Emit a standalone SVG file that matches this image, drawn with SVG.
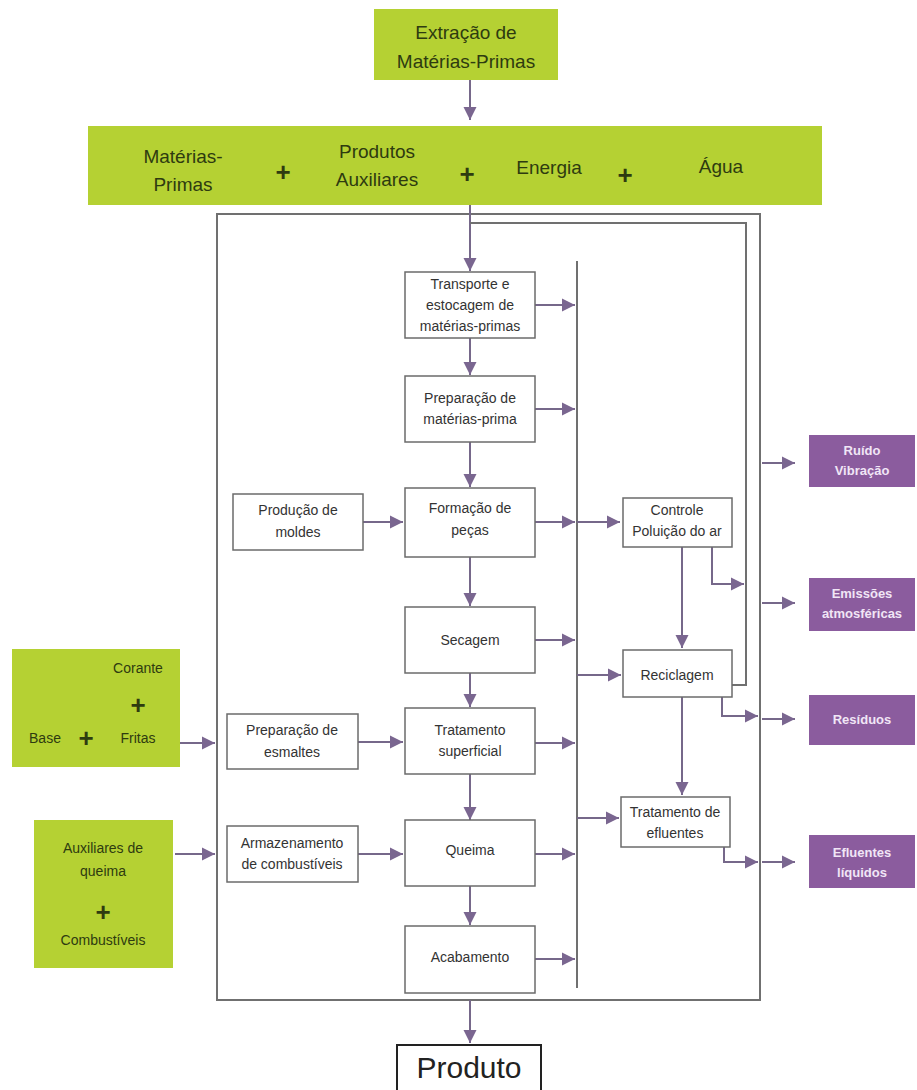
<svg xmlns="http://www.w3.org/2000/svg" width="917" height="1090" viewBox="0 0 917 1090">
<style>
.g{fill:#b5d133}
.p{fill:#8b5c9e}
.b{fill:#fff;stroke:#6b6b6b;stroke-width:1.5}
text{font-family:"Liberation Sans",Arial,sans-serif;text-anchor:middle}
.t{font-size:14px;fill:#333}
.gt{font-size:19px;fill:#2e3b10}
.gs{font-size:14px;fill:#2e3b10}
.pl{font-size:26px;fill:#2e3b10;font-weight:bold}
.pt{font-size:13px;fill:#f1e6f6;font-weight:bold}
.c{stroke:#76688a;stroke-width:2;fill:none}
.ca{stroke:#76688a;stroke-width:2;fill:none;marker-end:url(#ah)}
.o{stroke:#707070;stroke-width:2;fill:none}
</style>
<defs>
<marker id="ah" viewBox="0 0 10 10" refX="10" refY="5" markerWidth="13" markerHeight="14" markerUnits="userSpaceOnUse" orient="auto">
<path d="M0,0 L10,5 L0,10 z" fill="#7a6690"/>
</marker>
</defs>
<rect width="917" height="1090" fill="#fff"/>

<g id="frame">
<rect x="217" y="214" width="543" height="786" class="o"/>
</g>

<g id="connectors">
<line x1="470" y1="80" x2="470" y2="120" class="ca"/>
<line x1="470" y1="205" x2="470" y2="271" class="ca"/>
<polyline points="732,685 746,685 746,223 470,223" class="o"/>
<line x1="577" y1="261" x2="577" y2="988" class="o"/>
<line x1="470" y1="338" x2="470" y2="375" class="ca"/>
<line x1="470" y1="442" x2="470" y2="487" class="ca"/>
<line x1="470" y1="557" x2="470" y2="606" class="ca"/>
<line x1="470" y1="673" x2="470" y2="707" class="ca"/>
<line x1="470" y1="774" x2="470" y2="820" class="ca"/>
<line x1="470" y1="886" x2="470" y2="925" class="ca"/>
<line x1="470" y1="1000" x2="470" y2="1043" class="ca"/>
<line x1="535" y1="305" x2="575" y2="305" class="ca"/>
<line x1="535" y1="409" x2="575" y2="409" class="ca"/>
<line x1="535" y1="522" x2="575" y2="522" class="ca"/>
<line x1="535" y1="640" x2="575" y2="640" class="ca"/>
<line x1="535" y1="743" x2="575" y2="743" class="ca"/>
<line x1="535" y1="854" x2="575" y2="854" class="ca"/>
<line x1="535" y1="959" x2="575" y2="959" class="ca"/>
<line x1="577" y1="522" x2="620" y2="522" class="ca"/>
<line x1="577" y1="675" x2="621" y2="675" class="ca"/>
<line x1="577" y1="818" x2="619" y2="818" class="ca"/>
<line x1="363" y1="522" x2="403" y2="522" class="ca"/>
<line x1="180" y1="743" x2="215" y2="743" class="ca"/>
<line x1="358" y1="742" x2="403" y2="742" class="ca"/>
<line x1="175" y1="854" x2="215" y2="854" class="ca"/>
<line x1="358" y1="854" x2="403" y2="854" class="ca"/>
<line x1="682" y1="547" x2="682" y2="648" class="ca"/>
<polyline points="712,547 712,584 744,584" class="ca"/>
<line x1="682" y1="697" x2="682" y2="795" class="ca"/>
<polyline points="722,697 722,716 758,716" class="ca"/>
<polyline points="724,847 724,862 758,862" class="ca"/>
<line x1="762" y1="463" x2="795" y2="463" class="ca"/>
<line x1="762" y1="603" x2="795" y2="603" class="ca"/>
<line x1="762" y1="719" x2="795" y2="719" class="ca"/>
<line x1="762" y1="862" x2="795" y2="862" class="ca"/>
</g>

<g id="extracao">
<rect x="374" y="9" width="184" height="71" class="g"/>
<text x="466" y="39" class="gt">Extração de</text>
<text x="466" y="68" class="gt">Matérias-Primas</text>
</g>

<g id="insumos">
<rect x="88" y="126" width="734" height="79" class="g"/>
<text x="183" y="163" class="gt">Matérias-</text>
<text x="183" y="191" class="gt">Primas</text>
<text x="283" y="181" class="pl">+</text>
<text x="377" y="158" class="gt">Produtos</text>
<text x="377" y="186" class="gt">Auxiliares</text>
<text x="467" y="183" class="pl">+</text>
<text x="549" y="174" class="gt">Energia</text>
<text x="625" y="184" class="pl">+</text>
<text x="721" y="173" class="gt">Água</text>
</g>

<g id="transporte">
<rect x="405" y="272" width="130" height="66" class="b"/>
<text x="470" y="289" class="t">Transporte e</text>
<text x="470" y="310" class="t">estocagem de</text>
<text x="470" y="331" class="t">matérias-primas</text>
</g>

<g id="prep-mp">
<rect x="405" y="376" width="130" height="66" class="b"/>
<text x="470" y="403" class="t">Preparação de</text>
<text x="470" y="424" class="t">matérias-prima</text>
</g>

<g id="formacao">
<rect x="405" y="488" width="130" height="69" class="b"/>
<text x="470" y="513" class="t">Formação de</text>
<text x="470" y="535" class="t">peças</text>
</g>

<g id="moldes">
<rect x="233" y="494" width="130" height="56" class="b"/>
<text x="298" y="515" class="t">Produção de</text>
<text x="298" y="537" class="t">moldes</text>
</g>

<g id="secagem">
<rect x="405" y="607" width="130" height="66" class="b"/>
<text x="470" y="645" class="t">Secagem</text>
</g>

<g id="tratamento-sup">
<rect x="405" y="708" width="130" height="66" class="b"/>
<text x="470" y="735" class="t">Tratamento</text>
<text x="470" y="756" class="t">superficial</text>
</g>

<g id="esmaltes">
<rect x="227" y="714" width="131" height="55" class="b"/>
<text x="292" y="735" class="t">Preparação de</text>
<text x="292" y="757" class="t">esmaltes</text>
</g>

<g id="queima">
<rect x="405" y="820" width="130" height="66" class="b"/>
<text x="470" y="855" class="t">Queima</text>
</g>

<g id="armazenamento">
<rect x="227" y="826" width="131" height="56" class="b"/>
<text x="292" y="848" class="t">Armazenamento</text>
<text x="292" y="869" class="t">de combustíveis</text>
</g>

<g id="acabamento">
<rect x="405" y="926" width="130" height="67" class="b"/>
<text x="470" y="962" class="t">Acabamento</text>
</g>

<g id="controle">
<rect x="623" y="498" width="109" height="49" class="b"/>
<text x="677" y="515" class="t">Controle</text>
<text x="677" y="536" class="t">Poluição do ar</text>
</g>

<g id="reciclagem">
<rect x="623" y="650" width="109" height="47" class="b"/>
<text x="677" y="680" class="t">Reciclagem</text>
</g>

<g id="trat-efluentes">
<rect x="621" y="797" width="109" height="50" class="b"/>
<text x="675" y="817" class="t">Tratamento de</text>
<text x="675" y="838" class="t">efluentes</text>
</g>

<g id="esmalte-insumos">
<rect x="12" y="649" width="168" height="118" class="g"/>
<text x="138" y="673" class="gs">Corante</text>
<text x="138" y="714" class="pl">+</text>
<text x="45" y="743" class="gs">Base</text>
<text x="86" y="747" class="pl">+</text>
<text x="138" y="743" class="gs">Fritas</text>
</g>

<g id="queima-insumos">
<rect x="34" y="820" width="139" height="148" class="g"/>
<text x="103" y="853" class="gs">Auxiliares de</text>
<text x="103" y="876" class="gs">queima</text>
<text x="103" y="921" class="pl">+</text>
<text x="103" y="945" class="gs">Combustíveis</text>
</g>

<g id="ruido">
<rect x="809" y="435" width="106" height="52" class="p"/>
<text x="862" y="455" class="pt">Ruído</text>
<text x="862" y="475" class="pt">Vibração</text>
</g>

<g id="emissoes">
<rect x="809" y="578" width="106" height="53" class="p"/>
<text x="862" y="598" class="pt">Emissões</text>
<text x="862" y="618" class="pt">atmosféricas</text>
</g>

<g id="residuos">
<rect x="809" y="695" width="106" height="50" class="p"/>
<text x="862" y="724" class="pt">Resíduos</text>
</g>

<g id="efluentes">
<rect x="809" y="835" width="106" height="53" class="p"/>
<text x="862" y="857" class="pt">Efluentes</text>
<text x="862" y="877" class="pt">líquidos</text>
</g>

<g id="produto">
<rect x="397" y="1045" width="144" height="50" fill="#fff" stroke="#222" stroke-width="2"/>
<text x="469" y="1078" style="font-size:30px;fill:#222">Produto</text>
</g>
</svg>
